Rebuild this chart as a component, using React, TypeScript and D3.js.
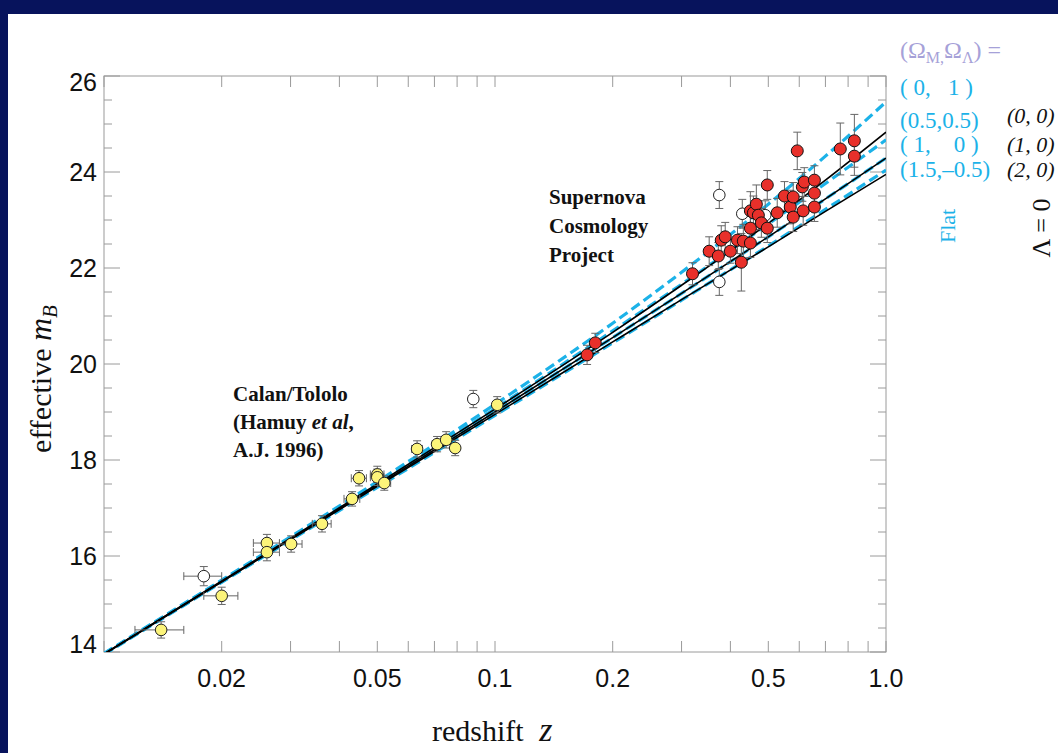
import React from 'react';
import * as d3 from 'd3';

const W = 1058;
const H = 753;
const PL = 104, PR = 886, PT = 76, PB = 652;

// model curves: effective m_B at sample redshifts
const modelZ = [0.01, 0.03, 0.05, 0.1, 0.2, 0.3, 0.5, 0.7, 1.0];
const flat_0_1 = [13.97, 16.40, 17.55, 19.16, 20.85, 21.91, 23.33, 24.33, 25.46];
const flat_05_05 = [13.96, 16.38, 17.51, 19.07, 20.69, 21.66, 22.92, 23.76, 24.67];
const flat_1_0 = [13.96, 16.35, 17.47, 19.00, 20.55, 21.47, 22.65, 23.44, 24.29];
const flat_15_m05 = [13.95, 16.33, 17.43, 18.93, 20.44, 21.33, 22.46, 23.22, 24.04];
const open_0_0 = [13.96, 16.37, 17.50, 19.06, 20.66, 21.64, 22.93, 23.83, 24.83];
const open_1_0 = [13.96, 16.35, 17.47, 19.00, 20.55, 21.47, 22.65, 23.44, 24.29];
const open_2_0 = [13.95, 16.34, 17.45, 18.95, 20.46, 21.34, 22.44, 23.18, 23.95];

// Calan/Tololo supernovae
const calanZ = [0.014, 0.018, 0.020, 0.0261, 0.0261, 0.0301, 0.0361, 0.0431, 0.0449, 0.050, 0.050, 0.0521, 0.0632, 0.0711, 0.0750, 0.0791, 0.088, 0.1013];
const calanM = [14.46, 15.58, 15.17, 16.27, 16.08, 16.25, 16.67, 17.19, 17.62, 17.70, 17.64, 17.52, 18.23, 18.33, 18.42, 18.25, 19.27, 19.15];
const calanErr = [0.17, 0.20, 0.18, 0.18, 0.18, 0.17, 0.17, 0.15, 0.16, 0.17, 0.17, 0.15, 0.17, 0.16, 0.17, 0.16, 0.18, 0.17];
const calanZErr = [0.002, 0.002, 0.002, 0.002, 0.002, 0.002, 0.002, 0.002, 0.002, 0.002, 0.002, 0.002, 0.002, 0.002, 0.002, 0.002, 0.002, 0.002];
const calanOpen = [false, true, false, false, false, false, false, false, false, false, false, false, false, false, false, false, true, false];

// Supernova Cosmology Project
const scpZ = [0.172, 0.1805, 0.320, 0.353, 0.3725, 0.379, 0.388, 0.400, 0.417, 0.4266, 0.4316, 0.450, 0.450, 0.450, 0.458, 0.466, 0.4716, 0.480, 0.497, 0.497, 0.527, 0.550, 0.569, 0.579, 0.579, 0.593, 0.611, 0.614, 0.618, 0.656, 0.656, 0.656, 0.764, 0.830, 0.830];
const scpM = [20.19, 20.44, 21.88, 22.35, 22.25, 22.58, 22.65, 22.35, 22.58, 22.12, 22.56, 22.83, 22.52, 23.19, 23.15, 23.33, 23.10, 22.94, 22.83, 23.73, 23.15, 23.50, 23.27, 23.48, 23.06, 24.44, 23.69, 23.19, 23.79, 23.83, 23.56, 23.27, 24.48, 24.65, 24.33];
const scpErr = [0.20, 0.20, 0.23, 0.30, 0.28, 0.30, 0.30, 0.25, 0.28, 0.60, 0.35, 0.30, 0.30, 0.40, 0.35, 0.40, 0.30, 0.30, 0.30, 0.30, 0.30, 0.30, 0.35, 0.30, 0.30, 0.39, 0.30, 0.30, 0.30, 0.30, 0.30, 0.30, 0.54, 0.55, 0.40];
const scpOpenZ = [0.3747, 0.3747, 0.429, 0.491];
const scpOpenM = [23.52, 21.71, 23.13, 23.10];
const scpOpenErr = [0.28, 0.28, 0.30, 0.30];

const xTickLabels = ['0.02', '0.05', '0.1', '0.2', '0.5', '1.0'];
const xTickValues = [0.02, 0.05, 0.1, 0.2, 0.5, 1.0];
const yTickValues = [14, 16, 18, 20, 22, 24, 26];

const CYAN = '#1cb2e8';
const NAVY = '#07135c';
const GRAY = '#9a9a9a';
const SERIF = '"Liberation Serif", "Times New Roman", serif';
const SANS = '"Liberation Sans", Arial, Helvetica, sans-serif';

export default function App() {
  const x = d3.scaleLog().domain([0.01, 1.0]).range([PL, PR]);
  const y = d3.scaleLinear().domain([14, 26]).range([PB, PT]);
  const line = d3.line<[number, number]>().x(d => x(d[0])).y(d => y(d[1])).curve(d3.curveMonotoneX);
  const path = (vals: number[]) => line(modelZ.map((z, i) => [z, vals[i]] as [number, number])) || '';

  const xMinor = x.ticks();
  const yMinor = d3.range(14, 26.01, 0.5);

  const vbar = (z: number, m: number, e: number, key: string) => (
    <g key={key} stroke="#666" strokeWidth={1}>
      <line x1={x(z)} x2={x(z)} y1={y(m - e)} y2={y(m + e)} />
      <line x1={x(z) - 4} x2={x(z) + 4} y1={y(m - e)} y2={y(m - e)} />
      <line x1={x(z) - 4} x2={x(z) + 4} y1={y(m + e)} y2={y(m + e)} />
    </g>
  );
  const hbar = (z: number, m: number, dz: number, key: string) => (
    <g key={key} stroke="#666" strokeWidth={1}>
      <line x1={x(z - dz)} x2={x(z + dz)} y1={y(m)} y2={y(m)} />
      <line x1={x(z - dz)} x2={x(z - dz)} y1={y(m) - 4} y2={y(m) + 4} />
      <line x1={x(z + dz)} x2={x(z + dz)} y1={y(m) - 4} y2={y(m) + 4} />
    </g>
  );

  return (
    <svg width={W} height={H} style={{ position: 'absolute', left: 0, top: 0, display: 'block' }}>
      <rect x={0} y={0} width={W} height={H} fill={NAVY} />
      <rect x={8} y={14} width={W - 8} height={H - 14} fill="#ffffff" />
      <defs>
        <clipPath id="plotclip">
          <rect x={PL} y={PT} width={PR - PL} height={PB - PT} />
        </clipPath>
      </defs>

      {/* frame */}
      <rect x={PL} y={PT} width={PR - PL} height={PB - PT} fill="none" stroke={GRAY} strokeWidth={1} />
      {/* x ticks */}
      {xMinor.map((t, i) => (
        <g key={'xt' + i} stroke={GRAY} strokeWidth={1}>
          <line x1={x(t)} x2={x(t)} y1={PB} y2={PB - 11} />
          <line x1={x(t)} x2={x(t)} y1={PT} y2={PT + 11} />
        </g>
      ))}
      {/* y ticks */}
      {yMinor.map((t, i) => {
        const major = Math.abs(t - Math.round(t)) < 1e-6 && Math.round(t) % 2 === 0;
        const len = major ? 16 : 8;
        return (
          <g key={'yt' + i} stroke={GRAY} strokeWidth={1}>
            <line x1={PL} x2={PL + len} y1={y(t)} y2={y(t)} />
            <line x1={PR} x2={PR - len} y1={y(t)} y2={y(t)} />
          </g>
        );
      })}
      {/* tick labels */}
      {xTickValues.map((t, i) => (
        <text key={'xl' + i} x={x(t)} y={687} textAnchor="middle" fontFamily={SANS} fontSize={25} fill="#111">{xTickLabels[i]}</text>
      ))}
      {yTickValues.map((t, i) => {
        const shift = t === 26 ? 6 : t === 14 ? -8 : 0;
        return (
          <text key={'yl' + i} x={97} y={y(t) + shift} dy="0.35em" textAnchor="end" fontFamily={SANS} fontSize={25} fill="#111">{t}</text>
        );
      })}

      {/* axis titles */}
      <text transform="translate(51,379) rotate(-90)" textAnchor="middle" fontFamily={SERIF} fontSize={30} fill="#111">
        effective <tspan fontStyle="italic" fontSize={32}>m</tspan><tspan fontStyle="italic" fontSize={21} dy={6}>B</tspan>
      </text>
      <text x={432} y={741} fontFamily={SERIF} fontSize={30} fill="#111">
        redshift <tspan dx={8} fontStyle="italic" fontSize={34}>z</tspan>
      </text>

      {/* model curves */}
      <g clipPath="url(#plotclip)" fill="none">
        {[flat_0_1, flat_05_05, flat_1_0, flat_15_m05].map((v, i) => (
          <path key={'c' + i} d={path(v)} stroke={CYAN} strokeWidth={3.2} strokeDasharray="10,5" />
        ))}
        {[open_0_0, open_1_0, open_2_0].map((v, i) => (
          <path key={'b' + i} d={path(v)} stroke="#000" strokeWidth={1.6} />
        ))}
      </g>

      {/* error bars */}
      {calanZ.map((z, i) => hbar(z, calanM[i], calanZErr[i], 'ch' + i))}
      {calanZ.map((z, i) => vbar(z, calanM[i], calanErr[i], 'cv' + i))}
      {scpOpenZ.map((z, i) => vbar(z, scpOpenM[i], scpOpenErr[i], 'ov' + i))}
      {scpZ.map((z, i) => vbar(z, scpM[i], scpErr[i], 'sv' + i))}

      {/* points */}
      {calanZ.map((z, i) => (
        <circle key={'cp' + i} cx={x(z)} cy={y(calanM[i])} r={5.8} fill={calanOpen[i] ? '#ffffff' : '#fcf47a'} stroke="#222" strokeWidth={1} />
      ))}
      {scpOpenZ.map((z, i) => (
        <circle key={'op' + i} cx={x(z)} cy={y(scpOpenM[i])} r={5.8} fill="#ffffff" stroke="#222" strokeWidth={1} />
      ))}
      {scpZ.map((z, i) => (
        <circle key={'sp' + i} cx={x(z)} cy={y(scpM[i])} r={6} fill="#e8302a" stroke="#111" strokeWidth={1} />
      ))}

      {/* annotations */}
      <g fontFamily={SERIF} fontWeight="bold" fontSize={21} fill="#111">
        <text x={549} y={204}>Supernova</text>
        <text x={549} y={233}>Cosmology</text>
        <text x={549} y={262}>Project</text>
        <text x={233} y={401}>Calan/Tololo</text>
        <text x={233} y={429}>(Hamuy <tspan fontStyle="italic">et al</tspan>,</text>
        <text x={233} y={457}>A.J. 1996)</text>
      </g>

      {/* legend */}
      <text x={900} y={58} fontFamily={SERIF} fontSize={24} fill="#a6a1d8">
        (Ω<tspan fontSize={16} dy={5}>M,</tspan><tspan dy={-5}>Ω</tspan><tspan fontSize={16} dy={5}>Λ</tspan><tspan dy={-5}>) =</tspan>
      </text>
      <g fontFamily={SERIF} fontSize={23} fill={CYAN} style={{ whiteSpace: 'pre' }}>
        <text x={900} y={95} xmlSpace="preserve">( 0,   1 )</text>
        <text x={900} y={128}>(0.5,0.5)</text>
        <text x={900} y={152} xmlSpace="preserve">( 1,    0 )</text>
        <text x={900} y={177}>(1.5,–0.5)</text>
      </g>
      <g fontFamily={SERIF} fontSize={22} fontStyle="italic" fill="#111">
        <text x={1007} y={123}>(0, 0)</text>
        <text x={1007} y={152}>(1, 0)</text>
        <text x={1007} y={177}>(2, 0)</text>
      </g>
      <text transform="translate(955,226) rotate(-90)" textAnchor="middle" fontFamily={SERIF} fontSize={22} fill={CYAN}>Flat</text>
      <text transform="translate(1050,228) rotate(-90)" textAnchor="middle" fontFamily={SERIF} fontSize={26} fill="#111">Λ = 0</text>
    </svg>
  );
}
